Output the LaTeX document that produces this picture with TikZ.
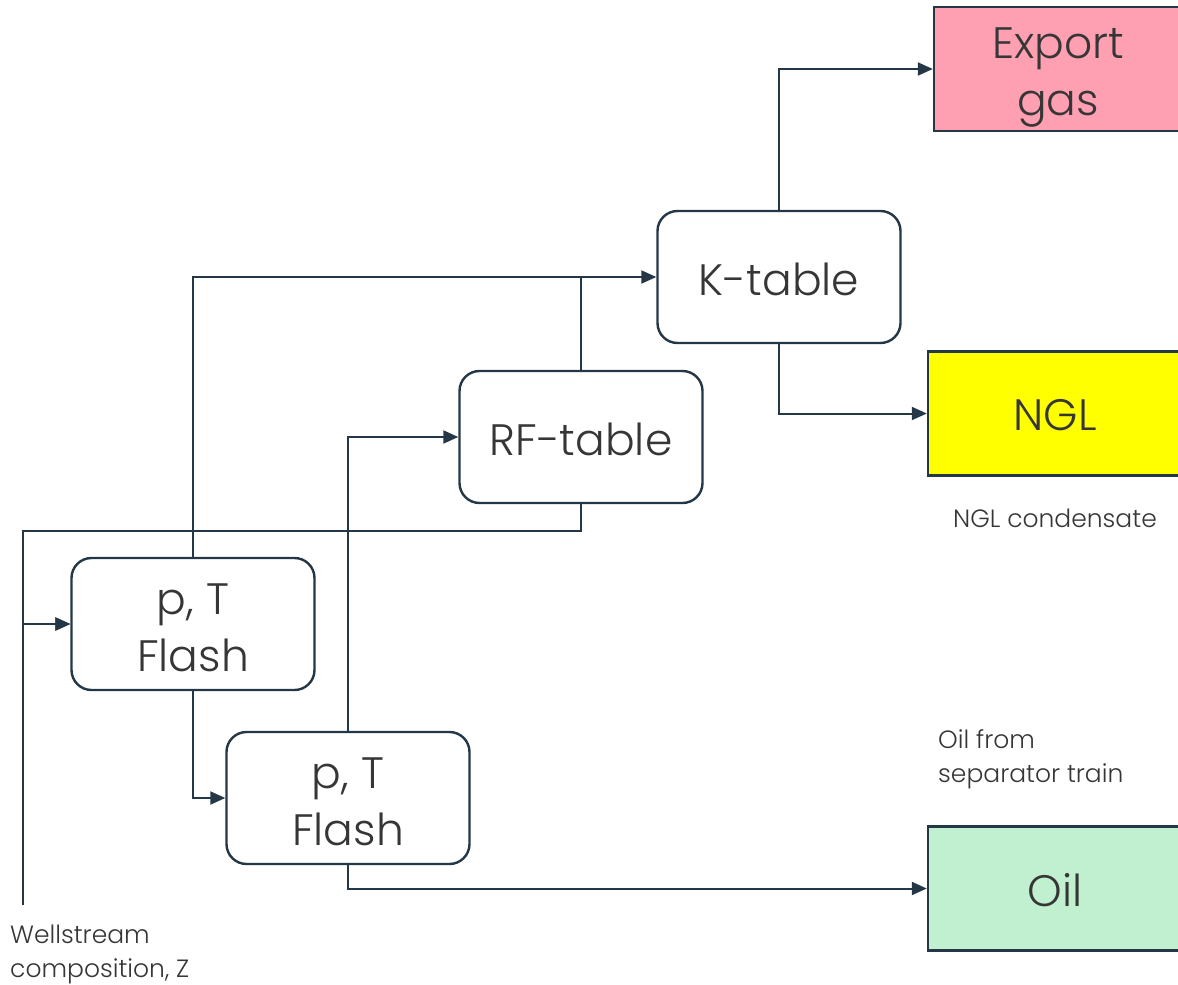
\documentclass[tikz,border=0pt]{standalone}
\usepackage{fontspec}
\setmainfont{Poppins}[UprightFont=* Light]
\usetikzlibrary{arrows.meta}
\definecolor{ink}{HTML}{243746}
\definecolor{txt}{HTML}{363636}
\definecolor{gaspink}{HTML}{FF9FB2}
\definecolor{nglyellow}{HTML}{FFFF00}
\definecolor{oilgreen}{HTML}{C0F0CF}
\tikzset{
  unit/.style={draw=ink, line width=2.4pt, rounded corners=20pt, fill=white,
    minimum width=243pt, minimum height=132pt, align=center, text=txt,
    font=\fontsize{44}{57}\selectfont, inner sep=0pt,
    text height=36pt, text depth=0pt},
  twoline/.style={text height=95pt, text depth=0pt},
  product/.style={draw=ink, line width=2.4pt, align=center, text=txt,
    minimum height=124pt, font=\fontsize{44}{57}\selectfont, inner sep=0pt,
    text height=36pt, text depth=0pt},
  note/.style={text=txt, align=left, font=\fontsize{25}{34}\selectfont, inner sep=0pt},
  pipe/.style={draw=ink, line width=2pt},
  flow/.style={pipe, -{Triangle[length=15pt,width=13pt]}}
}
\begin{document}
\begin{tikzpicture}[x=1pt,y=-1pt]
\useasboundingbox (0,0) rectangle (1178,985);
% process units
\node[unit] (ktab) at (779,277) {K-table};
\node[unit] (rf) at (581,437) {RF-table};
\node[unit, twoline] (f1) at (193,624) {p, T\\Flash};
\node[unit, twoline] (f2) at (348,798) {p, T\\Flash};
% product streams
\node[product, fill=gaspink, minimum width=248pt, text height=92pt] (exp) at (1058,69) {Export\\gas};
\node[product, fill=nglyellow, minimum width=254pt, text height=34pt] (ngl) at (1055,413.5) {NGL};
\node[product, fill=oilgreen, minimum width=254pt] (oil) at (1055,888.5) {Oil};
% annotations
\node[note, anchor=center] (nglnote) at (1055,518) {NGL condensate};
\node[note, anchor=north west] (oilnote) at (938,729) {Oil from\\separator train};
\node[note, anchor=north west] (wsnote) at (10,925) {Wellstream\\composition, Z};
% feed and recycle points
\coordinate (ws) at (23,905);
\coordinate (rec) at (23,531);
% connections
\draw[flow] (ktab.north) |- (exp.west);
\draw[flow] (ktab.south) |- (ngl.west);
\draw[flow] (f1.north) |- (ktab.west);
\draw[pipe] (rf.north) -- (rf.north |- ktab.west);
\draw[flow] (f2.north) |- (rf.west);
\draw[flow] (rf.south) |- (rec) |- (f1.west);
\draw[flow] (ws) |- (f1.west);
\draw[flow] (f1.south) |- (f2.west);
\draw[flow] (f2.south) |- (oil.west);
\end{tikzpicture}
\end{document}
